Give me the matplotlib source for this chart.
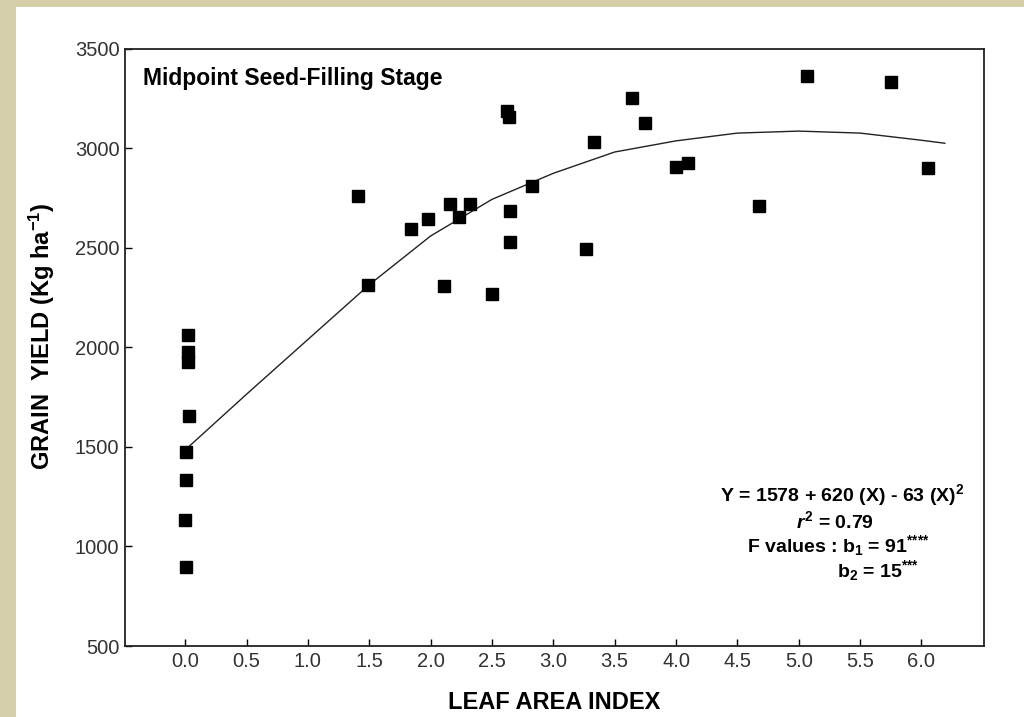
#imports
import numpy as np
import matplotlib
matplotlib.use("Agg")
import matplotlib.pyplot as plt
from matplotlib.patches import Rectangle

#fonts
plt.rcParams["font.family"] = ["Liberation Sans", "DejaVu Sans"]
plt.rcParams["mathtext.fontset"] = "custom"
plt.rcParams["mathtext.rm"] = "Liberation Sans:bold"
plt.rcParams["mathtext.it"] = "Liberation Sans:italic:bold"
plt.rcParams["mathtext.bf"] = "Liberation Sans:bold"
plt.rcParams["mathtext.default"] = "regular"

#data
lai = [0.02, 0.02, 0.02, 0.03, 0.01, 0.01, 0.0, 0.01,
       1.41, 1.49, 1.84, 1.98, 2.11, 2.16, 2.23, 2.32, 2.50,
       2.62, 2.64, 2.65, 2.65, 2.83, 3.27, 3.33, 3.64, 3.75,
       4.00, 4.10, 4.68, 5.07, 5.75, 6.05]
grain_yield = [2065, 1975, 1925, 1655, 1475, 1332, 1135, 898,
               2760, 2315, 2596, 2646, 2307, 2723, 2654, 2723, 2270,
               3189, 3156, 2685, 2528, 2811, 2495, 3030, 3251, 3130,
               2908, 2925, 2713, 3365, 3335, 2903]

#fitted curve (traced)
curve_x = [0.0, 0.5, 1.0, 1.5, 2.0, 2.5, 3.0, 3.5, 4.0, 4.5, 5.0, 5.5, 6.0, 6.19]
curve_y = [1485, 1765, 2040, 2315, 2560, 2744, 2875, 2982, 3038, 3077, 3087, 3077, 3041, 3026]

x_ticks = [0.0, 0.5, 1.0, 1.5, 2.0, 2.5, 3.0, 3.5, 4.0, 4.5, 5.0, 5.5, 6.0]
y_ticks = [500, 1000, 1500, 2000, 2500, 3000, 3500]

#figure with beige border and white page
fig = plt.figure(figsize=(10.24, 7.17), dpi=100)
fig.patch.set_facecolor("#d6d0aa")
fig.patches.append(Rectangle((16 / 1024, 0), 1, 1 - 7 / 717, transform=fig.transFigure,
                             facecolor="white", edgecolor="none", zorder=-10))

ax = fig.add_axes([0.1221, 0.099, 0.8389, 0.8328])
ax.set_facecolor("white")

ax.plot(curve_x, curve_y, color="#222222", linewidth=1.0)
ax.plot(lai, grain_yield, linestyle="none", marker="s", markersize=9,
        color="black")

ax.set_xlim(-0.49, 6.51)
ax.set_ylim(500, 3500)
ax.set_xticks(x_ticks)
ax.set_xticklabels([f"{t:.1f}" for t in x_ticks])
ax.set_yticks(y_ticks)
ax.tick_params(direction="in", length=5, width=1, labelsize=14.5,
               labelcolor="#333333", pad=4)
for s in ax.spines.values():
    s.set_linewidth(1.3)
    s.set_color("#222222")

ax.set_xlabel("LEAF AREA INDEX", fontsize=17, fontweight="bold", labelpad=15)
ax.set_ylabel("GRAIN  YIELD (Kg ha$^{-1}$)", fontsize=17, fontweight="bold")
ax.yaxis.set_label_coords(-0.079, 0.519)

#annotations
ax.text(0.021, 0.950, "Midpoint Seed-Filling Stage", transform=ax.transAxes,
        fontsize=16.5, fontweight="bold", va="center", ha="left")
ax.text(0.835, 0.253, "Y = 1578 + 620 (X) - 63 (X)$^{2}$", transform=ax.transAxes,
        fontsize=14, fontweight="bold", va="center", ha="center")
ax.text(0.826, 0.209, "$\\mathit{r}^{2}$ = 0.79", transform=ax.transAxes,
        fontsize=14, fontweight="bold", va="center", ha="center")
ax.text(0.830, 0.169, "F values : b$_{1}$ = 91$^{{*}{*}{*}{*}}$", transform=ax.transAxes,
        fontsize=14, fontweight="bold", va="center", ha="center")
ax.text(0.829, 0.127, "b$_{2}$ = 15$^{{*}{*}{*}}$", transform=ax.transAxes,
        fontsize=14, fontweight="bold", va="center", ha="left")

fig.savefig("out.png", dpi=100, facecolor=fig.get_facecolor())
